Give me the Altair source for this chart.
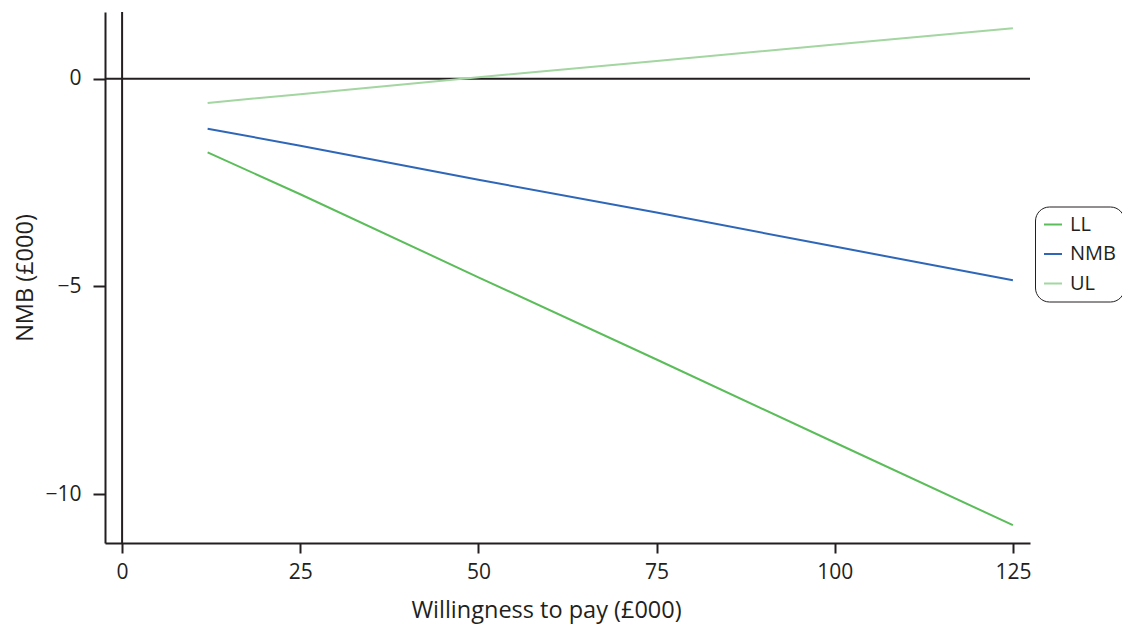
import altair as alt
import pandas as pd

wtp = [12, 25, 50, 75, 100, 125]
ll = [-1.77, -2.78, -4.78, -6.76, -8.76, -10.75]
nmb = [-1.20, -1.61, -2.43, -3.22, -4.04, -4.85]
ul = [-0.58, -0.37, 0.04, 0.43, 0.83, 1.22]

series = ["LL", "NMB", "UL"]
colors = ["#5bbd5a", "#2e67b8", "#a3d6a0"]

rows = []
for name, vals in zip(series, [ll, nmb, ul]):
    for x, y in zip(wtp, vals):
        rows.append({"wtp": x, "val": y, "series": name})
df = pd.DataFrame(rows)

FONT = "Open Sans"
INK = "#231f20"
xs = alt.Scale(domain=[-2.4, 127.4], nice=False, zero=False)
ys = alt.Scale(domain=[-11.18, 1.61], nice=False, zero=False)

lines = alt.Chart(df).mark_line(strokeWidth=2).encode(
    x=alt.X("wtp:Q", scale=xs, title="Willingness to pay (£000)",
            axis=alt.Axis(values=[0, 25, 50, 75, 100, 125], grid=False,
                          domainColor=INK, domainWidth=2, tickColor=INK,
                          tickWidth=2, tickSize=10, labelPadding=8, labelFontSize=21,
                          labelFont=FONT, titleFont=FONT, titleFontSize=23.5,
                          titleFontWeight="normal", titlePadding=16, labelColor=INK,
                          titleColor=INK, titleX=441, titleAlign="center")),
    y=alt.Y("val:Q", scale=ys, title="NMB (£000)",
            axis=alt.Axis(values=[-10, -5, 0], grid=False,
                          domainColor=INK, domainWidth=2, tickColor=INK,
                          tickWidth=2, tickSize=12, labelPadding=12, labelFontSize=21,
                          labelFont=FONT, titleFont=FONT, titleFontSize=23.5,
                          titleFontWeight="normal", titlePadding=7, labelColor=INK,
                          titleColor=INK)),
    color=alt.Color("series:N", scale=alt.Scale(domain=series, range=colors),
                    legend=alt.Legend(title=None, orient="none", legendX=930, legendY=194.5,
                                      symbolType="stroke", symbolSize=324, symbolStrokeWidth=2,
                                      labelFontSize=20, labelFont=FONT, labelColor=INK,
                                      labelOffset=7, rowPadding=9.5, padding=8,
                                      cornerRadius=14, strokeColor=INK,
                                      fillColor="white")),
)

zero_h = alt.Chart(pd.DataFrame({"y": [0]})).mark_rule(color=INK, strokeWidth=2).encode(
    y=alt.Y("y:Q", scale=ys))
zero_v = alt.Chart(pd.DataFrame({"x": [0]})).mark_rule(color=INK, strokeWidth=2).encode(
    x=alt.X("x:Q", scale=xs))

chart = alt.layer(zero_h, zero_v, lines).properties(
    width=925, height=531,
    autosize=alt.AutoSizeParams(type="none"),
    padding={"left": 97, "top": 4, "right": 92, "bottom": 84},
).configure(background="white").configure_view(stroke="transparent", strokeWidth=0)

chart.save("out.html", embed_options={"renderer": "svg", "actions": False})
